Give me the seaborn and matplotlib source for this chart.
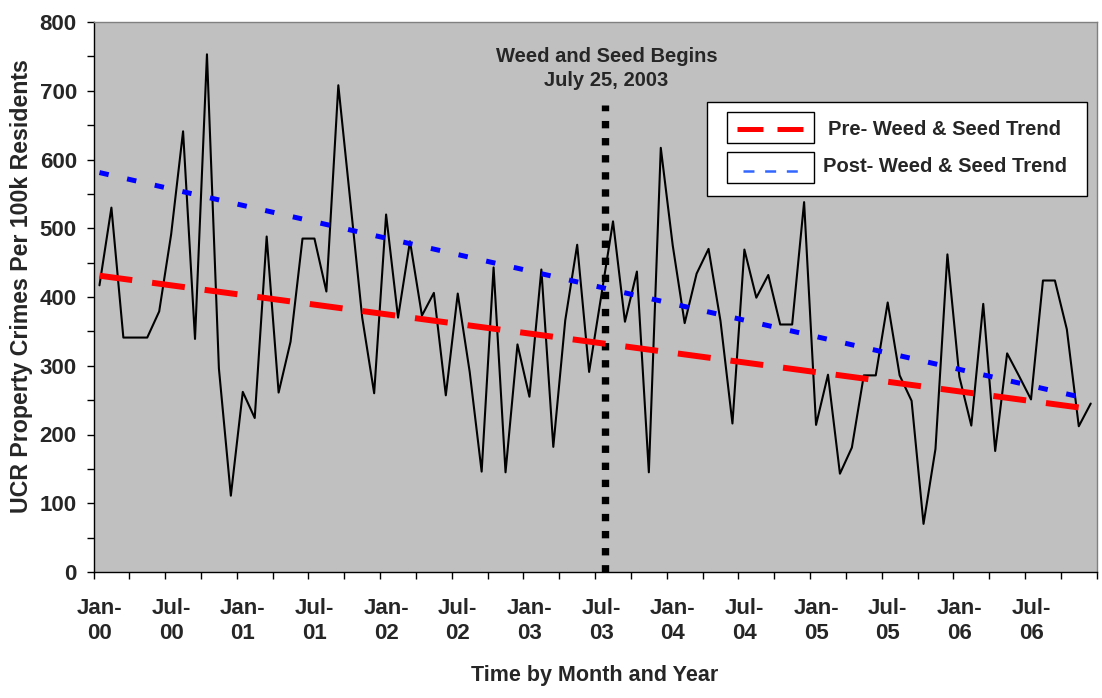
import numpy as np
import pandas as pd
import matplotlib
matplotlib.use("Agg")
import matplotlib.pyplot as plt
import seaborn as sns
from matplotlib.patches import Rectangle
from matplotlib.lines import Line2D

# ---------------- data ----------------
years = ["00", "01", "02", "03", "04", "05", "06"]
month_names = ["Jan", "Feb", "Mar", "Apr", "May", "Jun",
               "Jul", "Aug", "Sep", "Oct", "Nov", "Dec"]
months = [f"{m}-{y}" for y in years for m in month_names]

crime_rate = [417, 530, 341, 341, 341, 379, 491, 641, 339, 753,
              296, 111, 262, 224, 488, 261, 335, 485, 485, 408,
              708, 540, 370, 260, 520, 370, 481, 373, 406, 257,
              405, 291, 146, 443, 145, 331, 255, 440, 182, 366,
              476, 291, 400, 510, 364, 437, 145, 617, 475, 362,
              434, 470, 365, 216, 469, 399, 432, 360, 360, 538,
              214, 287, 143, 181, 286, 286, 392, 286, 249, 70,
              179, 462, 284, 213, 390, 176, 318, 285, 251, 424,
              424, 353, 212, 245]

tick_labels = [f"{m}-\n{y}" for y in years for m in ("Jan", "Jul")]

pre_trend_months = [0, 83]
pre_trend_values = [431, 237]
post_trend_months = [0, 83]
post_trend_values = [581, 251]

event_month = 42 + (25 - 16) / 31      # July 25, 2003 (Jul-03 is month index 42)
event_line_top = 680
event_label = "Weed and Seed Begins\nJuly 25, 2003"
event_label_value = 732

legend_labels = ["Pre- Weed & Seed Trend", "Post- Weed & Seed Trend"]
y_major = list(range(0, 801, 100))
y_minor = list(range(0, 801, 50))

# ---------------- style ----------------
sns.set_style("white")
plt.rcParams["font.family"] = ["Liberation Sans", "DejaVu Sans"]
plt.rcParams["font.weight"] = "bold"
plt.rcParams["lines.scale_dashes"] = False

W, H = 1102, 698
fig = plt.figure(figsize=(W / 100, H / 100), dpi=100)
fig.patch.set_facecolor("white")


def fx(px):
    return px / W


def fy(py):
    return 1 - py / H


ax = fig.add_axes([fx(93.5), fy(572), (1096.7 - 93.5) / W, (572 - 22) / H])
ax.set_facecolor("#C0C0C0")

df = pd.DataFrame({"month_index": np.arange(len(crime_rate)),
                   "month": months[:len(crime_rate)],
                   "rate": crime_rate})
sns.lineplot(data=df, x="month_index", y="rate", ax=ax, color="black",
             lw=1.5, zorder=3)

ax.plot([event_month, event_month], [0, event_line_top], color="black",
        lw=5.3, linestyle=(0, (5.3, 7.0)), dash_capstyle="butt", zorder=4)

sns.lineplot(x=pre_trend_months, y=pre_trend_values, ax=ax, color="#FF0000",
             lw=4.3, linestyle=(0, (23.8, 14.4)), dash_capstyle="butt",
             zorder=5)
sns.lineplot(x=post_trend_months, y=post_trend_values, ax=ax, color="#0000FF",
             lw=3.6, linestyle=(0, (6.8, 13.6)), dash_capstyle="butt",
             zorder=5)

ax.text(event_month + 0.15, event_label_value, event_label, ha="center",
        va="center", fontsize=14.5, fontweight="bold", linespacing=1.35,
        zorder=6)

# ---------------- axes ----------------
ax.set_xlim(-0.5, len(crime_rate) - 0.5)
ax.set_ylim(0, 800)
ax.set_xticks(range(0, len(crime_rate), 6))
ax.set_xticklabels(tick_labels)
ax.set_xticks(np.arange(-0.5, len(crime_rate), 3), minor=True)
ax.tick_params(axis="x", which="major", length=0, pad=19, labelsize=16,
               bottom=True)
ax.tick_params(axis="x", which="minor", length=5, width=1, direction="out",
               color="black", bottom=True)
ax.set_yticks(y_major)
ax.set_yticks(y_minor, minor=True)
ax.tick_params(axis="y", which="both", length=5, width=1, direction="out",
               color="black", left=True)
ax.tick_params(axis="y", which="major", labelsize=16, pad=7)
for lab in ax.get_xticklabels() + ax.get_yticklabels():
    lab.set_fontweight("bold")
ax.set_xlabel("")
ax.set_ylabel("")

for side in ("left", "bottom"):
    ax.spines[side].set_color("black")
    ax.spines[side].set_linewidth(1)
for side in ("top", "right"):
    ax.spines[side].set_color("#808080")
    ax.spines[side].set_linewidth(1)

fig.text(fx(595), fy(675), "Time by Month and Year", ha="center",
         va="center", fontsize=15.5, fontweight="bold")
fig.text(fx(22), fy(286), "UCR Property Crimes Per 100k Residents",
         ha="center", va="center", rotation=90, fontsize=16.7,
         fontweight="bold")

# ---------------- legend ----------------
fig.add_artist(Rectangle((fx(707.3), fy(196)), (1086.7 - 707.3) / W,
                         (196 - 101.7) / H, transform=fig.transFigure,
                         facecolor="white", edgecolor="black", lw=1,
                         zorder=10))
fig.add_artist(Rectangle((fx(727.3), fy(143.3)), 86.7 / W, 31 / H,
                         transform=fig.transFigure, facecolor="white",
                         edgecolor="black", lw=1, zorder=11))
fig.add_artist(Rectangle((fx(727.3), fy(183.3)), 86.7 / W, 31.6 / H,
                         transform=fig.transFigure, facecolor="white",
                         edgecolor="black", lw=1, zorder=11))
fig.add_artist(Line2D([fx(737), fx(803)], [fy(129), fy(129)],
                      transform=fig.transFigure, color="#FF0000", lw=3.6,
                      linestyle=(0, (18.7, 10.1)), dash_capstyle="butt",
                      zorder=12))
fig.add_artist(Line2D([fx(742.7), fx(797.7)], [fy(170.5), fy(170.5)],
                      transform=fig.transFigure, color="#3366FF", lw=1.8,
                      linestyle=(0, (7.9, 7.7)), dash_capstyle="butt",
                      zorder=12))
fig.text(fx(827.7), fy(129.3), legend_labels[0], ha="left", va="center",
         fontsize=14.5, fontweight="bold", zorder=12)
fig.text(fx(823.3), fy(167), legend_labels[1], ha="left", va="center",
         fontsize=14.5, fontweight="bold", zorder=12)

fig.savefig("out.png", dpi=100, facecolor="white")
